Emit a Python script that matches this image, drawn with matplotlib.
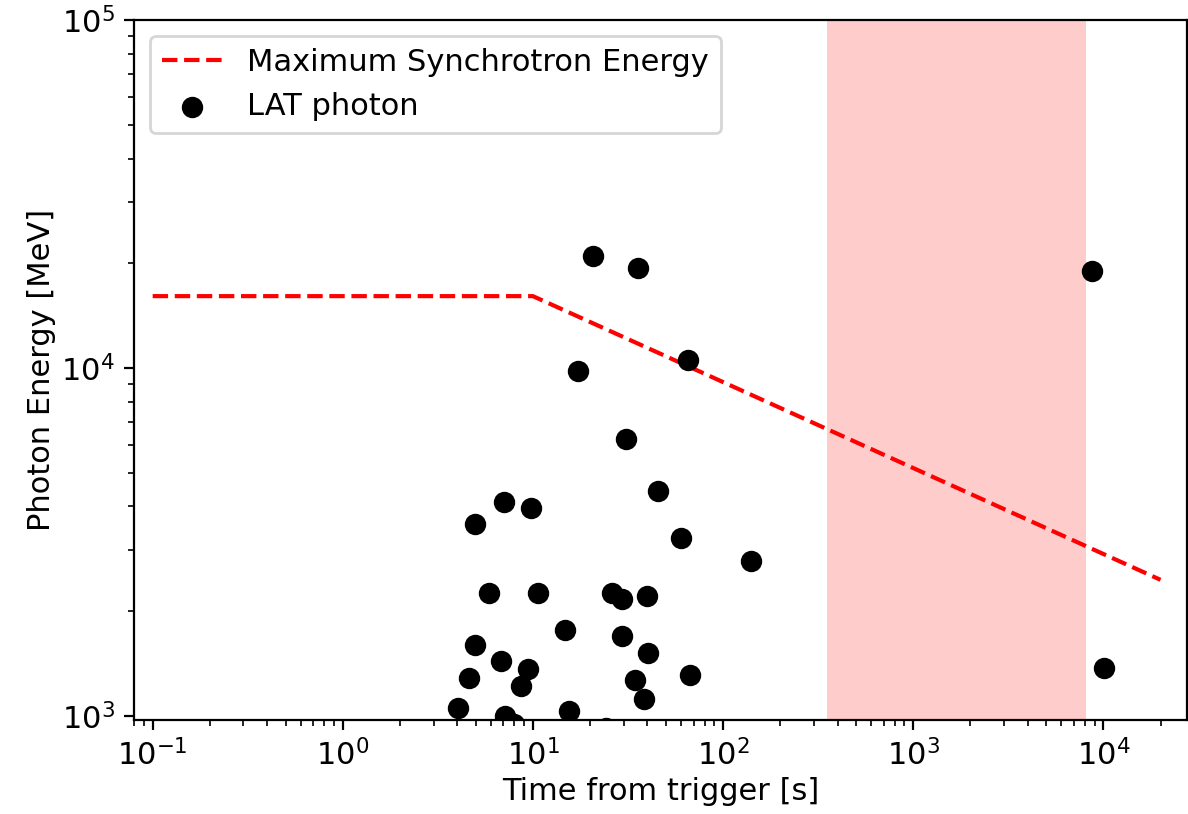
import numpy as np
import matplotlib
matplotlib.use('Agg')
import matplotlib.pyplot as plt

plt.rcParams['font.size'] = 11

# maximum synchrotron energy curve
sync_t = [0.1, 10, 2e4]
sync_e = [16100, 16100, 2460]

# shaded interval
shade_t = [352, 8150]

# LAT photons: time [s], energy [MeV]
photon_t = [20.7, 35.7, 8750, 65.4, 17.3, 30.9, 45.5, 7.03, 9.76, 4.95, 60.1, 140,
            5.87, 10.6, 26.0, 29.4, 39.8, 14.7, 29.4, 4.95, 40.3, 6.79, 9.41, 10100,
            4.6, 67, 34.4, 8.65, 38.4, 4.03, 15.5, 7.1, 8.0, 24.2]
photon_e = [21000, 19400, 19000, 10540, 9790, 6250, 4430, 4120, 3960, 3570, 3240, 2790,
            2250, 2250, 2250, 2170, 2210, 1770, 1700, 1600, 1520, 1440, 1365, 1374,
            1285, 1312, 1270, 1220, 1120, 1050, 1030, 1000, 948, 925]

fig, ax = plt.subplots(figsize=(5.94, 4.07), dpi=200)
ax.axvspan(*shade_t, color='red', alpha=0.2, lw=0)
ax.plot(sync_t, sync_e, 'r--', lw=1.5, label='Maximum Synchrotron Energy')
ax.scatter(photon_t, photon_e, s=45, c='k', label='LAT photon', zorder=3)
ax.set_xscale('log')
ax.set_yscale('log')
ax.set_xlim(0.08, 27500)
ax.set_ylim(975, 1e5)
ax.set_xlabel('Time from trigger [s]', labelpad=2)
ax.set_ylabel('Photon Energy [MeV]', labelpad=2)
ax.legend(loc='upper left')
fig.subplots_adjust(left=0.113, right=0.999, top=0.975, bottom=0.116)
fig.savefig('out.png')
